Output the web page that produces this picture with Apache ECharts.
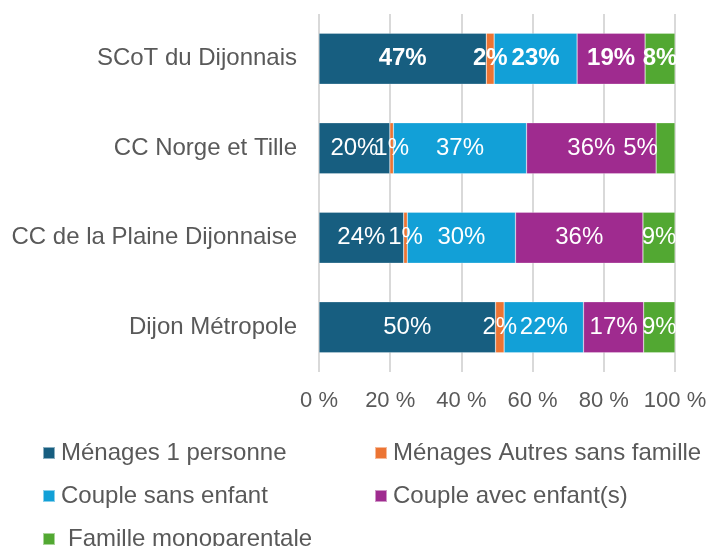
<!DOCTYPE html>
<html>
<head>
<meta charset="utf-8">
<script src="https://cdn.jsdelivr.net/npm/echarts@6/dist/echarts.min.js"></script>
<style>
  html, body { margin: 0; padding: 0; background: #fff; }
  #chart { width: 710px; height: 546px; }
</style>
</head>
<body>
<div id="chart"></div>
<script>
// territoires (de haut en bas)
const categories = ['SCoT du Dijonnais', 'CC Norge et Tille', 'CC de la Plaine Dijonnaise', 'Dijon Métropole'];
const seriesNames = ['Ménages 1 personne', 'Ménages Autres sans famille', 'Couple sans enfant', 'Couple avec enfant(s)', 'Famille monoparentale'];
const colors = ['#175E80', '#EC7433', '#12A0D7', '#9F2B8F', '#52A832'];

// parts en % par territoire
const unePersonne = [47.0, 19.9, 23.8, 49.6];
const autresSansFamille = [2.2, 1.0, 1.0, 2.4];
const coupleSansEnfant = [23.3, 37.4, 30.4, 22.3];
const coupleAvecEnfants = [19.1, 36.4, 35.8, 16.9];
const monoparentale = [8.4, 5.3, 9.0, 8.8];

const xTicks = [0, 20, 40, 60, 80, 100];

const values = [unePersonne, autresSansFamille, coupleSansEnfant, coupleAvecEnfants, monoparentale];

const myChart = echarts.init(document.getElementById('chart'));

const series = values.map((vals, s) => ({
  name: seriesNames[s],
  type: 'bar',
  stack: 'total',
  barWidth: '57%',
  itemStyle: { color: colors[s], borderColor: 'rgba(255,255,255,0.5)', borderWidth: 0.5 },
  label: {
    show: true,
    position: 'inside',
    color: '#fff',
    fontSize: 24,
    fontFamily: 'Liberation Sans, Arial, sans-serif',
    formatter: p => Math.round(p.value) + '%'
  },
  data: vals.map((v, i) => {
    if (i === 0) return { value: v, label: { fontWeight: 'bold' } };
    if (i === 1 && s === 4) return { value: v, label: { offset: [-25, 0] } };
    return v;
  })
}));

// position des entrées de légende (2 colonnes)
const legendPos = [[42, 441], [374, 441], [42, 484], [374, 484], [42, 527]];
const legendPad = [1, 1, 1, 1, 8];

const option = {
  animation: false,
  grid: { left: 319, right: 35, top: 14, bottom: 174 },
  xAxis: {
    type: 'value',
    min: 0,
    max: 100,
    interval: 20,
    axisLine: { show: false },
    axisTick: { show: false },
    splitLine: { lineStyle: { color: '#d9d9d9', width: 2 } },
    axisLabel: {
      margin: 18,
      fontSize: 22,
      color: '#595959',
      fontFamily: 'Liberation Sans, Arial, sans-serif',
      formatter: v => xTicks.includes(v) ? v + ' %' : ''
    }
  },
  yAxis: {
    type: 'category',
    inverse: true,
    data: categories,
    axisLine: { show: false },
    axisTick: { show: false },
    axisLabel: {
      margin: 22,
      fontSize: 24,
      color: '#595959',
      fontFamily: 'Liberation Sans, Arial, sans-serif'
    }
  },
  legend: seriesNames.map((n, i) => ({
    data: [n],
    left: legendPos[i][0],
    top: legendPos[i][1],
    icon: 'rect',
    itemWidth: 12,
    itemHeight: 12,
    padding: 0,
    selectedMode: false,
    textStyle: {
      fontSize: 24,
      color: '#595959',
      fontFamily: 'Liberation Sans, Arial, sans-serif',
      padding: [0, 0, 0, legendPad[i]]
    }
  })),
  series
};

myChart.setOption(option);
</script>
</body>
</html>
